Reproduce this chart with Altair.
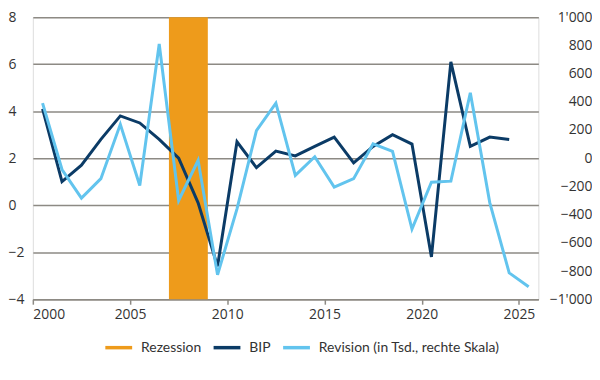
import altair as alt
import pandas as pd

# ---- data ----
years_bip = list(range(2000, 2025))
bip = [4.1, 1.0, 1.7, 2.8, 3.8, 3.5, 2.8, 2.0, 0.1, -2.6, 2.7, 1.6, 2.3, 2.1,
       2.5, 2.9, 1.8, 2.5, 3.0, 2.6, -2.2, 6.1, 2.5, 2.9, 2.8]
years_rev = list(range(2000, 2026))
revision = [390, -80, -283, -145, 240, -193, 810, -300, -15, -827, -359, 195,
            390, -122, 10, -205, -145, 102, 49, -502, -170, -163, 464, -315,
            -813, -912]
rec_start = [2007]
rec_end = [2009]

SERIES = ["Rezession", "BIP", "Revision (in Tsd., rechte Skala)"]
COLORS = ["#ee9b1b", "#0b3b66", "#62c4ee"]

left_ticks = [-4, -2, 0, 2, 4, 6, 8]
right_ticks = list(range(-1000, 1001, 200))
x_ticks = [2000, 2005, 2010, 2015, 2020, 2025]

FONT = "Open Sans"
LFONT = "Lato"
TXT = "#333333"
GRID = "#8d8a84"

bip_df = pd.DataFrame({"year": years_bip, "value": bip, "series": SERIES[1]})
rev_df = pd.DataFrame({"year": years_rev, "value": revision, "series": SERIES[2]})
rec_df = pd.DataFrame({"start": rec_start, "end": rec_end, "series": SERIES[0]})

xscale = alt.Scale(domain=[2000, 2026], nice=False, zero=False)
xaxis = alt.Axis(values=x_ticks, format="d", grid=False, title=None,
                 domainColor=GRID, domainWidth=1.5, tickColor=GRID, tickWidth=1.5,
                 tickSize=5, labelPadding=3, labelFontSize=14, labelFont=FONT,
                 labelColor=TXT)

color = alt.Color("series:N", title=None,
                  scale=alt.Scale(domain=SERIES, range=COLORS),
                  legend=alt.Legend(orient="none", legendX=71, legendY=317,
                                    direction="horizontal",
                                    symbolType="stroke", symbolStrokeWidth=3.5,
                                    symbolSize=729, labelFontSize=14, labelFont=LFONT,
                                    labelColor=TXT, columnPadding=5, labelOffset=7,
                                    labelLimit=0))

rect = alt.Chart(rec_df).mark_rect().encode(
    x=alt.X("start:Q", scale=xscale, axis=xaxis),
    x2="end:Q",
    color=color,
)

bip_line = alt.Chart(bip_df).transform_calculate(
    xm="datum.year + 0.5"
).mark_line(strokeWidth=3).encode(
    x=alt.X("xm:Q", scale=xscale, axis=xaxis),
    y=alt.Y("value:Q", scale=alt.Scale(domain=[-4, 8], nice=False, zero=False),
            axis=alt.Axis(values=left_ticks, orient="left", title=None, grid=True,
                          gridColor=GRID, gridWidth=1.5, domain=False, ticks=False,
                          labelAlign="left", labelPadding=25, labelFontSize=14,
                          labelFont=FONT, labelColor=TXT)),
    color=color,
)

rev_line = alt.Chart(rev_df).transform_calculate(
    xm="datum.year + 0.5"
).mark_line(strokeWidth=3).encode(
    x=alt.X("xm:Q", scale=xscale, axis=xaxis),
    y=alt.Y("value:Q", scale=alt.Scale(domain=[-1000, 1000], nice=False, zero=False),
            axis=alt.Axis(values=right_ticks, orient="right", title=None, grid=False,
                          domain=False, ticks=False, labelAlign="right",
                          labelPadding=54, labelFontSize=14, labelFont=FONT,
                          labelColor=TXT,
                          labelExpr="replace(format(datum.value, ','), ',', \"'\")")),
    color=color,
)

left = alt.layer(rect, bip_line)
chart = alt.layer(left, rev_line).resolve_scale(y="independent").properties(
    width=509, height=284,
    autosize=alt.AutoSizeParams(type="none"),
    padding={"left": 25, "top": 8, "right": 54, "bottom": 68},
).configure_view(stroke=None).configure(font=FONT)

chart.save("out.html", embed_options={"renderer": "svg", "actions": False})
